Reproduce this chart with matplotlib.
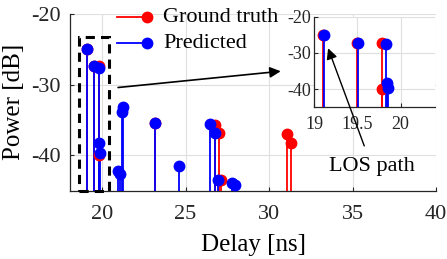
import matplotlib
matplotlib.use("Agg")
import matplotlib.pyplot as plt
from matplotlib.patches import Rectangle

# ground truth paths
gt_delay = [19.10, 19.495, 19.79, 19.79, 23.20, 26.78, 27.02, 27.13, 31.08, 31.32]
gt_power = [-25.0, -27.3, -27.35, -39.9, -35.4, -35.7, -36.9, -43.55, -37.0, -38.25]

# predicted paths
pred_delay = [19.11, 19.505, 19.835, 19.84, 19.85, 20.98, 21.06, 21.18, 21.28,
              23.17, 24.59, 26.47, 26.78, 26.96, 27.77, 27.96]
pred_power = [-25.0, -27.3, -27.6, -38.3, -39.7, -42.2, -42.6, -33.8, -33.2,
              -35.4, -41.5, -35.5, -36.85, -43.55, -43.9, -44.2]

labels = ["Ground truth", "Predicted"]
xticks = [20, 25, 30, 35, 40]
yticks = [-40, -30, -20]
in_xticks = [19, 19.5, 20]
in_xticklabels = ["19", "19.5", "20"]

plt.rcParams["font.family"] = ["Liberation Serif", "DejaVu Serif"]
plt.rcParams["axes.unicode_minus"] = False

W, H = 447, 259
fig = plt.figure(figsize=(W / 100, H / 100), dpi=100)

def px(l, r, t, b):
    return [l / W, 1 - b / H, (r - l) / W, (b - t) / H]

spine_c = "#262626"
grid_c = "#dfdfdf"


def stems(ax, x, y, c, base):
    ax.vlines(x, base, y, colors=c, lw=1.3, zorder=3)
    ax.plot(x, y, "o", color=c, ms=7.5, zorder=4)


def style(ax, fs):
    ax.grid(True, color=grid_c, lw=0.8)
    ax.set_axisbelow(True)
    for s in ["top", "right"]:
        ax.spines[s].set_visible(False)
    for s in ["left", "bottom"]:
        ax.spines[s].set_color(spine_c)
        ax.spines[s].set_linewidth(0.9)
    ax.tick_params(direction="in", length=3, width=0.8, colors=spine_c,
                   labelsize=fs, labelcolor="#262626")


ax = fig.add_axes(px(70, 436, 14, 190.7))
stems(ax, gt_delay, gt_power, "red", -60)
stems(ax, pred_delay, pred_power, "blue", -60)
ax.set_xlim(18.08, 40)
ax.set_ylim(-45, -20)
ax.set_xticks(xticks)
ax.set_yticks(yticks)
style(ax, 16)
ax.tick_params(axis="x", pad=10.5)
ax.tick_params(axis="y", pad=7)
ax.set_xlabel("Delay [ns]", fontsize=18, labelpad=7)
ax.set_ylabel("Power [dB]", fontsize=18, labelpad=4)

# zoom box and arrow to inset
ax.add_patch(Rectangle((18.59, -45), 20.44 - 18.59, 45 - 23.2, fill=False,
                       ec="black", lw=2.2, ls=(0, (3, 2)), zorder=6, clip_on=False))
ax.annotate("", xy=(30.7, -28.1), xytext=(20.96, -30.4),
            arrowprops=dict(arrowstyle="-|>", color="black", lw=1.2,
                            mutation_scale=16, shrinkA=0, shrinkB=0))

# legend drawn by hand (marker at line end, MATLAB style)
for i, (lab, c) in enumerate(zip(labels, ["red", "blue"])):
    yy = 1 - (17.3 + 26 * i - 14) / (190.7 - 14)
    x0 = (117 - 70) / 366
    x1 = (147 - 70) / 366
    ax.plot([x0, x1], [yy, yy], color=c, lw=1.3, transform=ax.transAxes, clip_on=False, zorder=5)
    ax.plot([x1], [yy], "o", color=c, ms=7.5, transform=ax.transAxes, clip_on=False, zorder=5)
    ax.text((163 - 70) / 366, yy, lab, fontsize=16, va="center", ha="left",
            transform=ax.transAxes, zorder=5)

# inset
ins = fig.add_axes(px(314.3, 435, 16.7, 107.4))
ins.set_facecolor("white")
stems(ins, gt_delay, gt_power, "red", -60)
stems(ins, pred_delay, pred_power, "blue", -60)
ins.set_xlim(19, 20.4)
ins.set_ylim(-45, -20)
ins.set_xticks(in_xticks)
ins.set_xticklabels(in_xticklabels)
ins.set_yticks(yticks)
style(ins, 13)
ins.tick_params(axis="x", pad=6)
ins.tick_params(axis="y", pad=2)
ins.annotate("LOS path", xy=(19.16, -28.7), xycoords="data",
             xytext=(371.7, H - 166), textcoords="figure pixels",
             fontsize=16, ha="center", va="center", annotation_clip=False,
             arrowprops=dict(arrowstyle="-|>", color="black", lw=1.0,
                             mutation_scale=16, shrinkA=6, shrinkB=0))

fig.savefig("out.png", dpi=100)
